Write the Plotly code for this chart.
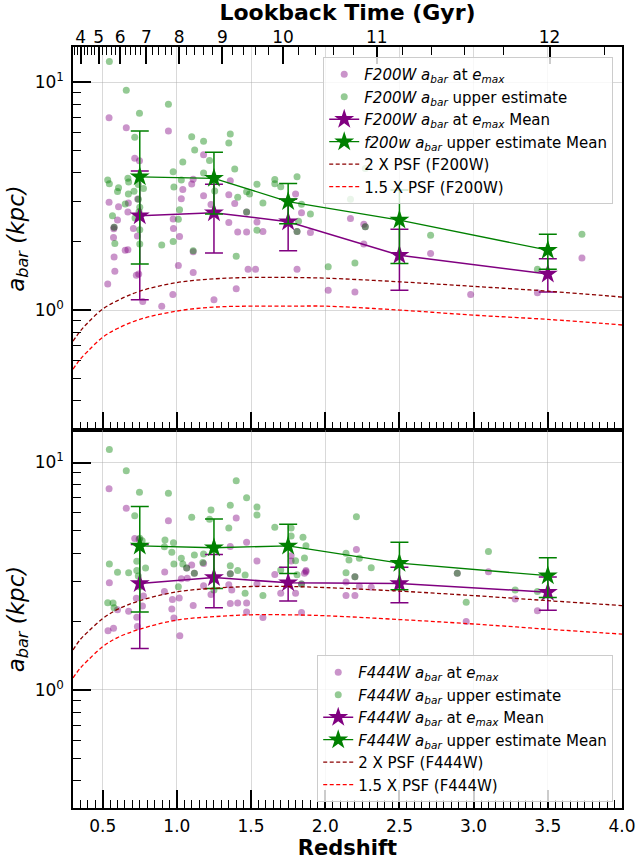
import numpy as np
import plotly.graph_objects as go

# ---------------- data ----------------
# Top panel (F200W) individual bars
top_emax_z = [0.543, 0.659, 0.943, 0.716, 0.748, 1.18, 1.10, 1.11, 1.36, 1.04, 1.18, 1.35, 0.543, 0.607,
              0.673, 0.736, 1.03, 1.23, 1.39, 0.67, 0.60, 0.975, 1.35, 1.41, 1.47, 0.707, 0.575, 0.734,
              0.573, 0.977, 1.018, 0.652, 0.67, 0.577, 0.582, 1.11, 1.01, 1.11, 0.727, 0.743, 0.534,
              0.77, 0.898, 0.973, 1.40, 1.25, 1.48, 0.577, 1.47, 1.80, 1.84, 1.54, 1.58, 1.90, 1.53,
              1.81, 2.17, 2.26, 2.26, 2.71, 2.02, 2.20, 2.27, 1.81, 3.73, 3.43, 2.98]
top_emax_a = [6.97, 6.30, 6.10, 4.63, 4.52, 4.80, 3.57, 3.75, 3.69, 3.38, 3.17, 3.20, 2.97, 2.84,
              2.95, 3.07, 3.08, 2.90, 2.93, 2.69, 2.48, 2.51, 2.42, 2.20, 2.20, 2.28, 2.27, 2.11,
              2.08, 2.28, 2.10, 1.83, 1.84, 1.71, 1.48, 1.80, 1.57, 1.46, 1.42, 1.44, 1.30,
              1.09, 1.04, 1.17, 1.24, 1.11, 1.51, 2.31, 2.69, 3.23, 2.67, 2.43, 2.21, 2.19, 1.51,
              1.51, 2.52, 2.38, 1.95, 1.77, 1.22, 1.20, 2.32, 2.21, 1.69, 1.19, 1.17]

top_upper_z = [0.545, 0.659, 0.943, 0.748, 0.716, 1.10, 1.18, 1.36, 1.35, 1.12, 1.22, 1.04, 1.39, 0.975,
               1.18, 0.534, 0.545, 0.67, 0.675, 0.607, 0.60, 0.673, 0.711, 0.775, 0.98, 1.03, 1.255,
               1.41, 1.47, 1.49, 0.652, 0.741, 0.75, 0.566, 0.718, 1.01, 1.018, 0.577, 0.582, 0.975,
               0.898, 1.11, 1.40, 1.47, 1.66, 1.81, 1.54, 1.66, 1.70, 1.58, 1.84, 1.90, 1.82, 1.54,
               2.17, 2.27, 2.71, 2.20, 2.02, 2.27, 1.81, 3.73, 3.43, 0.74, 0.745, 0.75, 0.75]
top_upper_a = [12.3, 9.2, 7.98, 7.30, 5.72, 5.75, 5.50, 5.91, 5.40, 5.03, 4.53, 4.46, 4.15, 4.04,
               3.99, 3.72, 3.58, 3.78, 3.64, 3.44, 3.31, 3.23, 3.32, 3.41, 3.46, 3.72, 3.33,
               3.12, 3.30, 3.23, 2.92, 3.06, 2.82, 2.59, 2.53, 2.50, 2.75, 2.31, 1.96, 2.00,
               1.93, 1.82, 1.72, 2.69, 3.74, 3.84, 3.56, 3.58, 3.47, 2.95, 2.91, 2.64, 2.45, 2.24,
               3.06, 2.32, 2.13, 1.61, 1.55, 4.18, 2.21, 2.15, 1.51, 3.55, 2.70, 2.25, 1.95]

# Bottom panel (F444W) individual bars
bot_emax_z = [0.543, 0.659, 0.943, 1.40, 0.716, 0.745, 1.47, 1.36, 0.545, 0.918, 1.03, 1.07, 1.10, 1.18,
              1.18, 1.23, 1.35, 1.37, 1.36, 1.41, 1.47, 1.47, 0.916, 1.016, 0.97, 0.966, 0.98, 1.11,
              1.02, 0.727, 0.775, 0.768, 0.73, 0.734, 0.675, 0.60, 0.536, 0.573, 1.066, 1.118, 1.36,
              1.54, 1.77, 1.77, 1.87, 1.86, 1.66, 1.54, 1.70, 1.80, 1.58, 1.84, 2.21, 2.14, 2.20,
              2.23, 2.31, 2.14, 1.84, 2.20, 3.10, 3.28, 3.43, 2.95, 2.89, 1.87]
bot_emax_a = [7.67, 6.29, 5.55, 5.70, 4.63, 4.60, 4.46, 4.27, 2.96, 3.30, 3.08, 3.10, 3.54, 3.60,
              2.87, 2.63, 2.90, 2.75, 2.40, 2.41, 2.41, 2.20, 2.71, 2.54, 2.50, 2.27, 2.07, 2.35,
              1.73, 2.53, 2.59, 2.34, 2.09, 1.90, 2.22, 2.25, 1.82, 1.87, 3.44, 3.26, 3.24,
              3.69, 3.89, 3.69, 3.35, 3.26, 3.22, 2.92, 2.66, 2.66, 2.08, 2.19, 4.15, 2.60, 2.60,
              2.86, 2.83, 2.98, 2.92, 3.15, 3.31, 2.51, 2.23, 2.00, 3.26, 3.31]

bot_upper_z = [0.545, 0.659, 0.748, 0.943, 1.40, 1.47, 0.716, 1.10, 1.23, 1.22, 1.36, 1.35, 0.92, 0.977,
               0.916, 0.966, 0.766, 1.03, 0.98, 1.04, 1.118, 1.18, 0.545, 0.73, 0.73, 0.789, 0.60,
               0.675, 0.74, 1.066, 1.118, 1.175, 1.36, 1.41, 1.46, 1.36, 1.01, 0.534, 0.57, 0.577,
               1.46, 1.25, 1.54, 1.54, 1.66, 1.77, 1.77, 1.85, 1.87, 2.21, 2.14, 2.16, 2.23, 2.31,
               1.86, 1.80, 1.70, 1.81, 2.14, 2.20, 1.84, 1.58, 3.10, 2.89, 3.28, 2.95, 3.43, 0.75, 0.75]
bot_upper_a = [11.4, 9.2, 7.4, 7.32, 8.32, 7.0, 5.84, 5.74, 6.18, 5.63, 6.49, 5.15, 4.56, 4.44,
               4.26, 4.03, 4.53, 3.79, 3.58, 3.58, 3.92, 3.96, 3.58, 3.68, 3.35, 3.44, 3.29,
               3.28, 3.17, 3.44, 3.26, 3.63, 3.52, 3.35, 3.20, 3.24, 2.84, 2.42, 2.41, 2.30,
               2.66, 2.75, 6.37, 5.88, 5.19, 5.15, 4.75, 4.69, 4.31, 5.78, 3.99, 3.73, 3.79, 3.45,
               3.80, 3.70, 3.37, 3.21, 3.28, 3.15, 2.92, 2.60, 4.06, 3.26, 2.75, 2.43, 2.71, 4.64, 2.84]

# Binned means
bin_z = [0.75, 1.25, 1.75, 2.5, 3.5]
top_emax_mean = [2.59, 2.67, 2.44, 1.74, 1.44]
top_emax_err = [1.48, 0.89, 0.62, 0.52, 0.24]
top_upper_mean = [3.84, 3.78, 2.99, 2.48, 1.83]
top_upper_err = [2.25, 1.14, 0.60, 0.88, 0.32]
bot_emax_mean = [2.94, 3.12, 2.96, 2.94, 2.69]
bot_emax_err = [1.42, 0.82, 0.50, 0.52, 0.45]
bot_upper_mean = [4.30, 4.22, 4.30, 3.61, 3.18]
bot_upper_err = [2.10, 1.43, 1.05, 0.85, 0.63]

# PSF size limits (kpc) vs redshift
psf_z = [0.3, 0.35, 0.4, 0.5, 0.6, 0.75, 1.0, 1.25, 1.5, 1.75, 2.0, 2.5, 3.0, 3.5, 4.0]
psf2_f200 = [0.73, 0.81, 0.88, 1.01, 1.10, 1.21, 1.32, 1.37, 1.39, 1.39, 1.38, 1.33, 1.27, 1.21, 1.14]
psf15_f200 = [0.55, 0.61, 0.66, 0.76, 0.83, 0.91, 0.99, 1.03, 1.04, 1.04, 1.04, 1.00, 0.95, 0.91, 0.86]
psf2_f444 = [1.50, 1.67, 1.80, 2.06, 2.26, 2.47, 2.70, 2.80, 2.85, 2.85, 2.82, 2.72, 2.60, 2.47, 2.35]
psf15_f444 = [1.13, 1.25, 1.35, 1.55, 1.70, 1.85, 2.03, 2.10, 2.14, 2.14, 2.12, 2.04, 1.95, 1.85, 1.76]

# Tick labels
z_ticks = [0.5, 1.0, 1.5, 2.0, 2.5, 3.0, 3.5, 4.0]
lookback_ticks = [4, 5, 6, 7, 8, 9, 10, 11, 12]

# -------- lookback-time -> redshift conversion for the top axis (flat LCDM) --------
H0, Om = 67.7, 0.31
zg = np.linspace(0, 8, 8001)
Ez = np.sqrt(Om * (1 + zg) ** 3 + (1 - Om))
f = 1.0 / ((1 + zg) * Ez)
tL = np.concatenate([[0], np.cumsum(0.5 * (f[1:] + f[:-1]) * np.diff(zg))]) * 977.8 / H0
z_major = list(np.interp(lookback_ticks, tL, zg))
minor_t = [t for t in np.arange(3.0, 12.81, 0.2) if abs(t - round(t)) > 1e-6]
z_minor = list(np.interp(minor_t, tL, zg))

PURPLE = "purple"
GREEN = "green"
PURPLE_A = "rgba(128,0,128,0.42)"
GREEN_A = "rgba(0,128,0,0.42)"
FONT = "DejaVu Sans"

def lbl(f, tail, lower=False):
    fname = f.lower()[:-1] + "w" if lower else f
    return f"<i>{fname} a</i><sub><i>bar</i></sub> {tail}"

fig = go.Figure()

def add_panel(xa, ya, leg, filt, emz, ema, upz, upa, emm, eme, upm, upe, p2, p15, lower4):
    fig.add_trace(go.Scatter(x=emz, y=ema, mode="markers", xaxis=xa, yaxis=ya, legend=leg,
                             marker=dict(color=PURPLE_A, size=7),
                             name=lbl(filt, "at <i>e</i><sub><i>max</i></sub>")))
    fig.add_trace(go.Scatter(x=upz, y=upa, mode="markers", xaxis=xa, yaxis=ya, legend=leg,
                             marker=dict(color=GREEN_A, size=7),
                             name=lbl(filt, "upper estimate")))
    fig.add_trace(go.Scatter(x=bin_z, y=emm, mode="lines+markers", xaxis=xa, yaxis=ya, legend=leg,
                             line=dict(color=PURPLE, width=1.5),
                             marker=dict(symbol="star", size=15, color=PURPLE),
                             error_y=dict(type="data", array=eme, color=PURPLE, thickness=1.5, width=9),
                             name=lbl(filt, "at <i>e</i><sub><i>max</i></sub> Mean")))
    fig.add_trace(go.Scatter(x=bin_z, y=upm, mode="lines+markers", xaxis=xa, yaxis=ya, legend=leg,
                             line=dict(color=GREEN, width=1.3),
                             marker=dict(symbol="star", size=15, color=GREEN),
                             error_y=dict(type="data", array=upe, color=GREEN, thickness=1.5, width=9),
                             name=lbl(filt, "upper estimate Mean", lower=lower4)))
    fig.add_trace(go.Scatter(x=psf_z, y=p2, mode="lines", xaxis=xa, yaxis=ya, legend=leg,
                             line=dict(color="#8B0000", width=1.3, dash="4px,2.5px", shape="spline"),
                             name=f"2 X PSF ({filt})"))
    fig.add_trace(go.Scatter(x=psf_z, y=p15, mode="lines", xaxis=xa, yaxis=ya, legend=leg,
                             line=dict(color="#FF0000", width=1.3, dash="4px,2.5px", shape="spline"),
                             name=f"1.5 X PSF ({filt})"))

add_panel("x", "y", "legend", "F200W", top_emax_z, top_emax_a, top_upper_z, top_upper_a,
          top_emax_mean, top_emax_err, top_upper_mean, top_upper_err, psf2_f200, psf15_f200, True)
add_panel("x2", "y2", "legend2", "F444W", bot_emax_z, bot_emax_a, bot_upper_z, bot_upper_a,
          bot_emax_mean, bot_emax_err, bot_upper_mean, bot_upper_err, psf2_f444, psf15_f444, False)

# invisible trace to activate the top lookback axis
fig.add_trace(go.Scatter(x=[1.0], y=[1.0], xaxis="x3", yaxis="y", mode="markers",
                         marker=dict(opacity=0), showlegend=False, hoverinfo="skip"))

split = 1 - 383 / 761
grid_c = "rgba(170,170,170,0.45)"
xcommon = dict(range=[0.3, 4.0], tickmode="array", tickvals=z_ticks, tickformat=".1f",
               ticks="inside", ticklen=18, tickwidth=1.5, tickcolor="black",
               showline=True, linecolor="black", linewidth=1.5, mirror=True,
               showgrid=True, gridcolor=grid_c, gridwidth=1, zeroline=False, automargin=False,
               minor=dict(dtick=0.05, tick0=0.0, ticks="inside", ticklen=8, tickwidth=1,
                          tickcolor="black", showgrid=False),
               tickfont=dict(family=FONT, size=17, color="black"))
ymin_ticks = [0.3, 0.4, 0.5, 0.6, 0.7, 0.8, 0.9, 2, 3, 4, 5, 6, 7, 8, 9]
ycommon = dict(type="log", tickmode="array", tickvals=[1, 10],
               ticktext=["10<sup>0</sup>", "10<sup>1</sup>"],
               ticks="inside", ticklen=18, tickwidth=1.8, tickcolor="black",
               showline=True, linecolor="black", linewidth=1.5, mirror=True,
               showgrid=True, gridcolor=grid_c, gridwidth=1, zeroline=False, automargin=False,
               minor=dict(tickvals=ymin_ticks, ticks="inside", ticklen=8, tickwidth=1.2,
                          tickcolor="black", showgrid=False),
               tickfont=dict(family=FONT, size=17, color="black"), ticklabelstandoff=4,
               title=dict(text="<i>a</i><sub><i>bar</i></sub> <i>(kpc)</i>",
                          font=dict(family=FONT, size=23, color="black"), standoff=4))

legcommon = dict(bgcolor="rgba(255,255,255,0.8)", bordercolor="#cccccc", borderwidth=1,
                 font=dict(family=FONT, size=15, color="black"), xanchor="right",
                 itemwidth=30, tracegroupgap=0)

fig.update_layout(
    width=636, height=860,
    margin=dict(l=73, r=14, t=47, b=52, autoexpand=False),
    paper_bgcolor="white", plot_bgcolor="white",
    showlegend=True,
    xaxis=dict(**xcommon, domain=[0, 1], anchor="y", showticklabels=False),
    yaxis=dict(**ycommon, domain=[split, 1], anchor="x", range=[-0.526, 1.1535]),
    xaxis2=dict(**xcommon, domain=[0, 1], anchor="y2", showticklabels=True, ticklabelstandoff=2,
                title=dict(text="<b>Redshift</b>", font=dict(family=FONT, size=21, color="black"),
                           standoff=6)),
    yaxis2=dict(**ycommon, domain=[0, split], anchor="x2", range=[-0.519, 1.143]),
    xaxis3=dict(overlaying="x", side="top", anchor="y", range=[0.3, 4.0], automargin=False,
                tickmode="array", tickvals=z_major, ticktext=[str(t) for t in lookback_ticks],
                ticks="inside", ticklen=17, tickwidth=1.5, tickcolor="black",
                showgrid=False, zeroline=False, showline=False,
                minor=dict(tickvals=z_minor, ticks="inside", ticklen=8, tickwidth=1,
                           tickcolor="black", showgrid=False),
                tickfont=dict(family=FONT, size=17, color="black"),
                title=dict(text="<b>Lookback Time (Gyr)</b>",
                           font=dict(family=FONT, size=22, color="black"), standoff=0)),
    legend=dict(**legcommon, x=0.984, y=0.987, yanchor="top"),
    legend2=dict(**legcommon, x=0.984, y=0.008, yanchor="bottom"),
)

fig.write_html("out.html", config={"displayModeBar": False},
               post_script="document.body.style.margin='0px';document.body.style.overflow='hidden';")
